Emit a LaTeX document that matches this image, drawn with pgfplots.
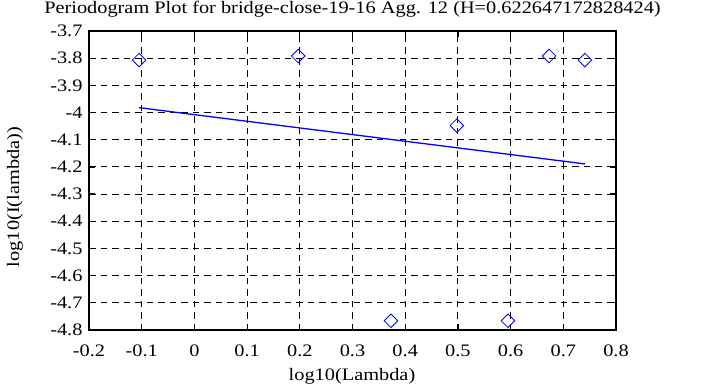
\documentclass[border=0pt]{standalone}
\usepackage{fontspec}
\setmainfont{Liberation Serif}
\newfontfamily\gpfont[FakeStretch=1.16]{Liberation Serif}
\usepackage{pgfplots}
\pgfplotsset{compat=1.18}
\definecolor{gpblue}{RGB}{0,0,255}
\newcommand{\gpf}{\gpfont\fontsize{17.6}{20}\selectfont}
\begin{document}
\begin{tikzpicture}[x=1bp,y=1bp]
\useasboundingbox (0,0) rectangle (705,387);
\begin{axis}[
  at={(89bp,57bp)}, anchor=south west,
  scale only axis, width=527bp, height=299bp,
  xmin=-0.2, xmax=0.8, ymin=-4.8, ymax=-3.7,
  xtick={-0.2,-0.1,0,0.1,0.2,0.3,0.4,0.5,0.6,0.7,0.8},
  xticklabels={-0.2,-0.1,0,0.1,0.2,0.3,0.4,0.5,0.6,0.7,0.8},
  ytick={-4.8,-4.7,-4.6,-4.5,-4.4,-4.3,-4.2,-4.1,-4.0,-3.9,-3.8,-3.7},
  yticklabels={-4.8,-4.7,-4.6,-4.5,-4.4,-4.3,-4.2,-4.1,-4,-3.9,-3.8,-3.7},
  tick label style={font=\gpf},
  tick align=inside, tick pos=both,
  major tick length=6bp,
  every tick/.style={black, line width=1.2bp},
  axis line style={black, line width=1.8bp},
  grid=major,
  major grid style={black, line width=0.9bp, dash pattern=on 6.5bp off 5bp},
  xticklabel style={anchor=base, yshift=-26.5bp},
  yticklabel style={anchor=east, xshift=-3bp},
  clip=false,
]
\addplot[gpblue, line width=1.3bp, no marks] coordinates {
  (-0.105,-3.982) (0.741,-4.189)
};
\addplot[only marks, gpblue, mark=square, mark size=4.8bp,
  mark options={rotate=45, line width=0.8bp, fill=none}] coordinates {
  (-0.105,-3.807)
  (0.197,-3.792)
  (0.373,-4.766)
  (0.498,-4.048)
  (0.595,-4.766)
  (0.673,-3.792)
  (0.741,-3.807)
};
\end{axis}
\node[anchor=base, inner sep=0pt, font=\gpf] at (352.5,373.5) {Periodogram Plot for bridge-close-19-16 Agg. 12 (H=0.622647172828424)};
\node[anchor=base, inner sep=0pt, font=\gpf] at (352,7) {log10(Lambda)};
\node[anchor=base, inner sep=0pt, rotate=90, font=\gpf] at (19,190) {log10(I(lambda))};
\end{tikzpicture}
\end{document}
